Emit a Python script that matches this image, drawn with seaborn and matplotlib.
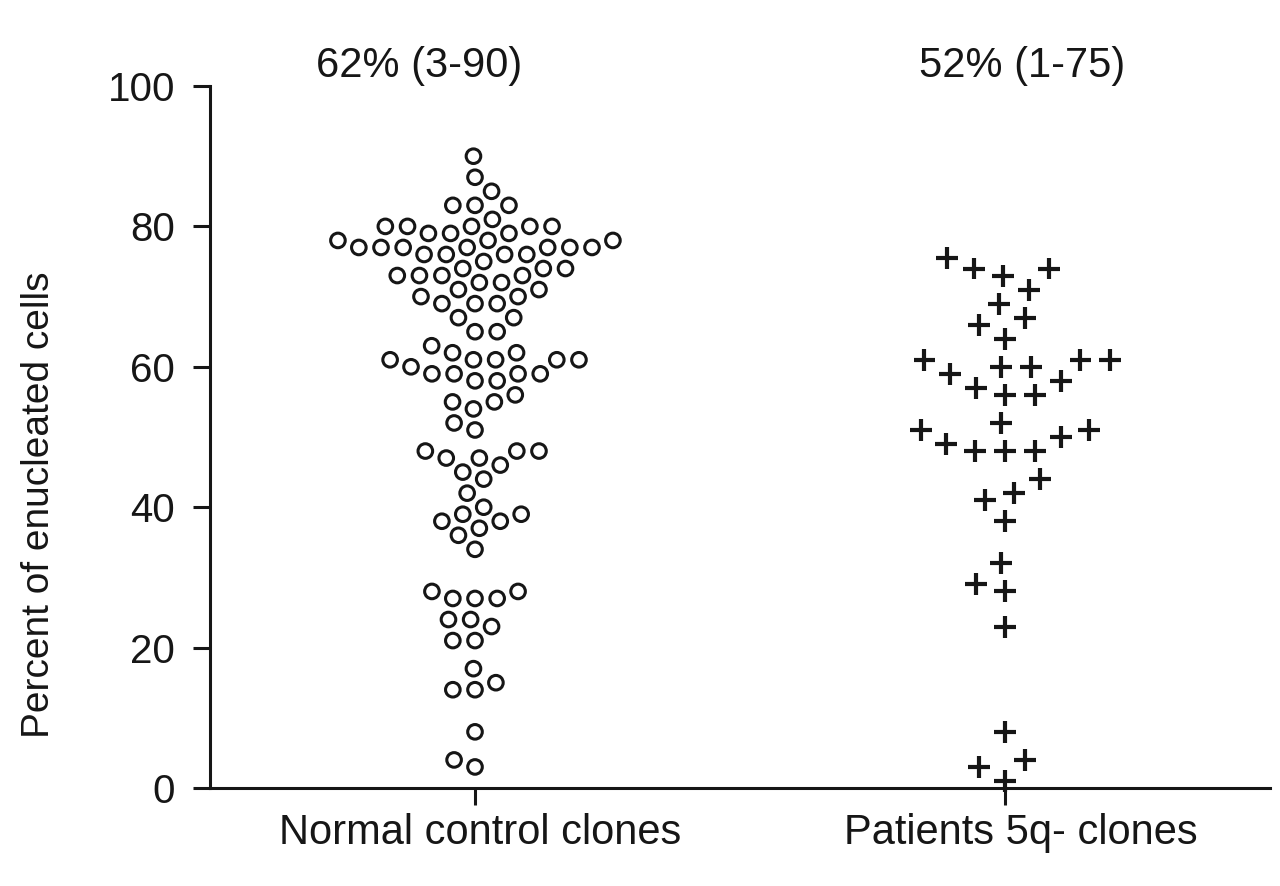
import matplotlib
matplotlib.use("Agg")
import matplotlib.pyplot as plt
import matplotlib.transforms as mtransforms
import pandas as pd
import seaborn as sns

# ---------------- data ----------------
categories = ["Normal control clones", "Patients 5q- clones"]

normal_values = [90, 87, 85, 83, 83, 83, 81, 80, 80, 80, 80, 80, 79, 79, 79,
                 78, 78, 78, 77, 77, 77, 77, 77, 77, 77, 76, 76, 76, 76, 75,
                 74, 74, 74, 73, 73, 73, 73, 72, 72, 71, 71, 70, 70, 69, 69,
                 69, 67, 67, 65, 65, 63, 62, 62, 61, 61, 61, 61, 61, 60, 59,
                 59, 59, 59, 58, 58, 56, 55, 55, 54, 52, 51, 48, 48, 48, 47,
                 47, 46, 45, 44, 42, 40, 39, 39, 38, 38, 37, 36, 34, 28, 28,
                 27, 27, 27, 24, 24, 23, 21, 21, 17, 15, 14, 14, 8, 3, 4]

patient_values = [75.5, 74, 74, 73, 71, 69, 67, 66, 64, 61, 61, 61, 60, 60,
                  59, 58, 57, 56, 56, 52, 51, 51, 50, 49, 48, 48, 48, 44, 42,
                  41, 38, 32, 29, 28, 23, 8, 4, 3, 1]

summary_labels = ["62% (3-90)", "52% (1-75)"]
y_ticks = [0, 20, 40, 60, 80, 100]
y_label = "Percent of enucleated cells"

# ---------------- style ----------------
sns.set_style("ticks")
plt.rcParams["font.family"] = ["Liberation Sans", "DejaVu Sans"]
plt.rcParams["axes.linewidth"] = 2.2

INK = "#161616"
W, H = 1280, 886
fig = plt.figure(figsize=(W / 100, H / 100), dpi=100)
ax = fig.add_axes([210 / W, 1 - 788 / H, 1060 / W, 702 / H])

df_n = pd.DataFrame({"group": categories[0], "value": normal_values})
df_p = pd.DataFrame({"group": categories[1], "value": patient_values})

# swarm layout uses a spacing a bit larger than the drawn glyphs (Prism-like spacing)
sns.swarmplot(data=df_n, x="group", y="value", order=categories, ax=ax,
              marker="o", size=13.2, linewidth=2.0, color="black")
sns.swarmplot(data=df_p, x="group", y="value", order=categories, ax=ax,
              marker="+", size=18.0, linewidth=2.4, color="black")

ax.set_xlim(-0.5, 1.5)
ax.set_ylim(0, 100)
ax.set_yticks(y_ticks)
ax.set_xlabel("")
ax.set_ylabel(y_label, fontsize=28, color=INK)
ax.yaxis.set_label_coords(-0.161, 0.403)
ax.yaxis.label.set_va("center")

for side in ["top", "right"]:
    ax.spines[side].set_visible(False)
for side in ["left", "bottom"]:
    ax.spines[side].set_color(INK)
    ax.spines[side].set_linewidth(2.2)

ax.tick_params(axis="both", direction="out", length=12, width=2.2, color=INK,
               labelcolor=INK)
ax.tick_params(axis="y", labelsize=29, pad=13)
ax.tick_params(axis="x", labelsize=30, pad=6)

# summary annotations above each group
ax.text(-0.106, 102.8, summary_labels[0], ha="center", va="center",
        fontsize=30, color=INK, clip_on=False)
ax.text(1.032, 102.8, summary_labels[1], ha="center", va="center",
        fontsize=30, color=INK, clip_on=False)

# compute swarm positions, then freeze them and draw final glyph sizes
fig.canvas.draw()
n_coll = p_coll = None
for coll in ax.collections:
    if "draw" in coll.__dict__:
        del coll.draw
    n = len(coll.get_offsets())
    if n == len(normal_values) and n_coll is None:
        n_coll = coll
    elif n == len(patient_values) and p_coll is None:
        p_coll = coll
    else:
        coll.set_visible(False)

n_coll.set_clip_on(False)
n_coll.set_sizes([10.5 ** 2])
n_coll.set_facecolor("none")
n_coll.set_edgecolor(INK)
n_coll.set_linewidth(2.2)

p_coll.set_clip_on(False)
p_coll.set_sizes([15.8 ** 2])
p_coll.set_edgecolor(INK)
p_coll.set_facecolor("none")
p_coll.set_linewidth(3.0)

# small horizontal nudges of the category labels as in the original
offsets_px = [5, 16]
for lbl, dx in zip(ax.get_xticklabels(), offsets_px):
    lbl.set_transform(lbl.get_transform() +
                      mtransforms.ScaledTranslation(dx / 100, 0, fig.dpi_scale_trans))

fig.savefig("out.png", dpi=100, facecolor="white")
